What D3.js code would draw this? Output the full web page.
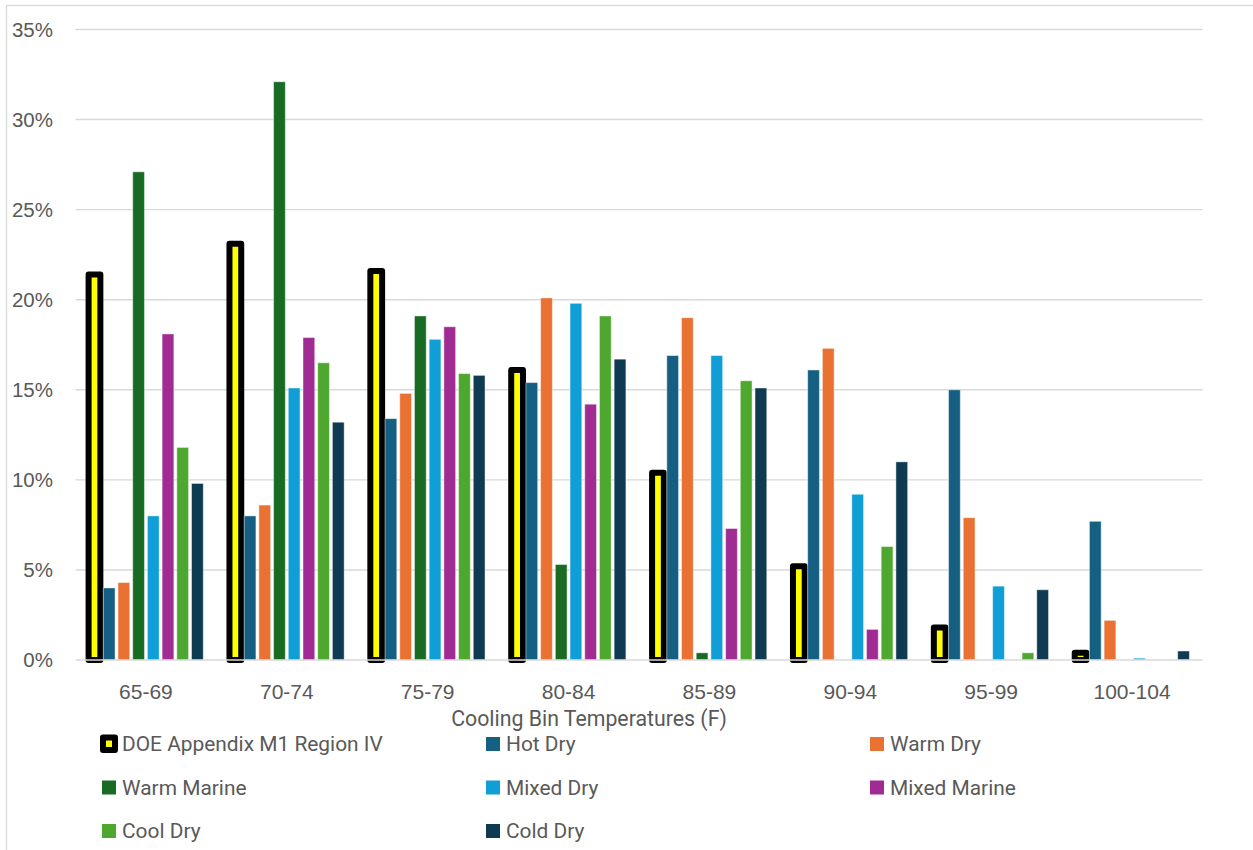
<!DOCTYPE html>
<html>
<head>
<meta charset="utf-8">
<script src="https://cdn.jsdelivr.net/npm/d3@7"></script>
<style>
  html, body { margin: 0; padding: 0; background: #ffffff; }
  svg { display: block; }
</style>
</head>
<body>
<svg id="chart" width="1253" height="850"></svg>
<script>
// Temperature bins (°F) on the category axis
const categories = ["65-69", "70-74", "75-79", "80-84", "85-89", "90-94", "95-99", "100-104"];

// Share of cooling hours per bin, in percent
const doeRegionIV = [21.4, 23.1, 21.6, 16.1, 10.4, 5.2, 1.8, 0.4];
const hotDry      = [4.0, 8.0, 13.4, 15.4, 16.9, 16.1, 15.0, 7.7];
const warmDry     = [4.3, 8.6, 14.8, 20.1, 19.0, 17.3, 7.9, 2.2];
const warmMarine  = [27.1, 32.1, 19.1, 5.3, 0.4, 0, 0, 0];
const mixedDry    = [8.0, 15.1, 17.8, 19.8, 16.9, 9.2, 4.1, 0.1];
const mixedMarine = [18.1, 17.9, 18.5, 14.2, 7.3, 1.7, 0, 0];
const coolDry     = [11.8, 16.5, 15.9, 19.1, 15.5, 6.3, 0.4, 0];
const coldDry     = [9.8, 13.2, 15.8, 16.7, 15.1, 11.0, 3.9, 0.5];

const seriesNames = ["DOE Appendix M1 Region IV", "Hot Dry", "Warm Dry", "Warm Marine",
                     "Mixed Dry", "Mixed Marine", "Cool Dry", "Cold Dry"];
const yTicks = [0, 5, 10, 15, 20, 25, 30, 35];
const axisTitle = "Cooling Bin Temperatures (F)";

const seriesValues = [doeRegionIV, hotDry, warmDry, warmMarine, mixedDry, mixedMarine, coolDry, coldDry];
const colors = ["#FFFF00", "#156082", "#E97132", "#196B24", "#0F9ED5", "#A02B93", "#4EA72E", "#0E3A52"];

const series = seriesNames.map((name, i) => ({ name, values: seriesValues[i], color: colors[i], idx: i }));

const svg = d3.select("#chart");
const textColor = "#595959";
const gridColor = "#d9d9d9";

// Chart frame
svg.append("rect")
  .attr("x", 6.5).attr("y", 5.5)
  .attr("width", 1300).attr("height", 900)
  .attr("fill", "none").attr("stroke", gridColor).attr("stroke-width", 1.3);

const plot = { left: 75.5, right: 1202.5, top: 29.5, bottom: 660 };

const x0 = d3.scaleBand()
  .domain(categories)
  .range([plot.left, plot.right])
  .paddingInner(0.165)
  .paddingOuter(0.0825);

const x1 = d3.scaleBand()
  .domain(d3.range(series.length))
  .range([0, x0.bandwidth()])
  .paddingInner(0.2)
  .paddingOuter(0.1);

const y = d3.scaleLinear().domain([0, 35]).range([plot.bottom, plot.top]);

// Horizontal gridlines
svg.append("g")
  .selectAll("line")
  .data(yTicks.filter(t => t > 0))
  .join("line")
  .attr("x1", plot.left).attr("x2", plot.right)
  .attr("y1", d => y(d)).attr("y2", d => y(d))
  .attr("stroke", gridColor).attr("stroke-width", 1.4);

// Y tick labels
svg.append("g")
  .selectAll("text")
  .data(yTicks)
  .join("text")
  .attr("x", 53)
  .attr("y", d => y(d) + 7)
  .attr("text-anchor", "end")
  .attr("font-family", "'Liberation Sans', Arial, sans-serif")
  .attr("font-size", 20.5)
  .attr("fill", textColor)
  .text(d => d + "%");

// Bars
const groups = svg.append("g")
  .selectAll("g")
  .data(categories)
  .join("g")
  .attr("transform", c => `translate(${x0(c)},0)`);

groups.selectAll("rect")
  .data((c, ci) => series.map(s => ({ s, v: s.values[ci] })).filter(d => d.v > 0))
  .join("rect")
  .attr("x", d => x1(d.s.idx))
  .attr("width", x1.bandwidth())
  .attr("y", d => y(d.v))
  .attr("height", d => y(0) - y(d.v))
  .attr("fill", d => d.s.color)
  .attr("stroke", d => d.s.idx === 0 ? "#000000" : "rgba(255,255,255,0.45)")
  .attr("stroke-width", d => d.s.idx === 0 ? 6 : 1)
  .attr("stroke-linejoin", "round");

// Category axis line
svg.append("line")
  .attr("x1", plot.left).attr("x2", plot.right)
  .attr("y1", y(0)).attr("y2", y(0))
  .attr("stroke", gridColor).attr("stroke-width", 1.4);

// Category labels
svg.append("g")
  .selectAll("text")
  .data(categories)
  .join("text")
  .attr("x", c => x0(c) + x0.bandwidth() / 2)
  .attr("y", 698.5)
  .attr("text-anchor", "middle")
  .attr("font-family", "'Liberation Sans', Arial, sans-serif")
  .attr("font-size", 21)
  .attr("fill", textColor)
  .text(c => c);

// Axis title
svg.append("text")
  .attr("x", 589)
  .attr("y", 725.5)
  .attr("text-anchor", "middle")
  .attr("font-family", "Roboto, sans-serif")
  .attr("font-size", 21.3)
  .attr("fill", textColor)
  .text(axisTitle);

// Legend: three columns, row-major
const legendCols = [102, 486, 870];
const legendRows = [751, 794.5, 838];
const legend = svg.append("g")
  .selectAll("g")
  .data(series)
  .join("g")
  .attr("transform", (d, i) => `translate(${legendCols[i % 3]},${legendRows[Math.floor(i / 3)]})`);

legend.each(function (d) {
  const g = d3.select(this);
  if (d.idx === 0) {
    g.append("rect")
      .attr("x", 1).attr("y", -13.5)
      .attr("width", 12).attr("height", 12.5)
      .attr("fill", d.color)
      .attr("stroke", "#000000").attr("stroke-width", 6)
      .attr("stroke-linejoin", "round");
  } else {
    g.append("rect")
      .attr("x", 0).attr("y", -14)
      .attr("width", 14).attr("height", 14)
      .attr("fill", d.color);
  }
  g.append("text")
    .attr("x", 20)
    .attr("y", 0)
    .attr("font-family", "Roboto, sans-serif")
    .attr("font-size", 20.9)
    .attr("fill", textColor)
    .text(d.name);
});
</script>
</body>
</html>
